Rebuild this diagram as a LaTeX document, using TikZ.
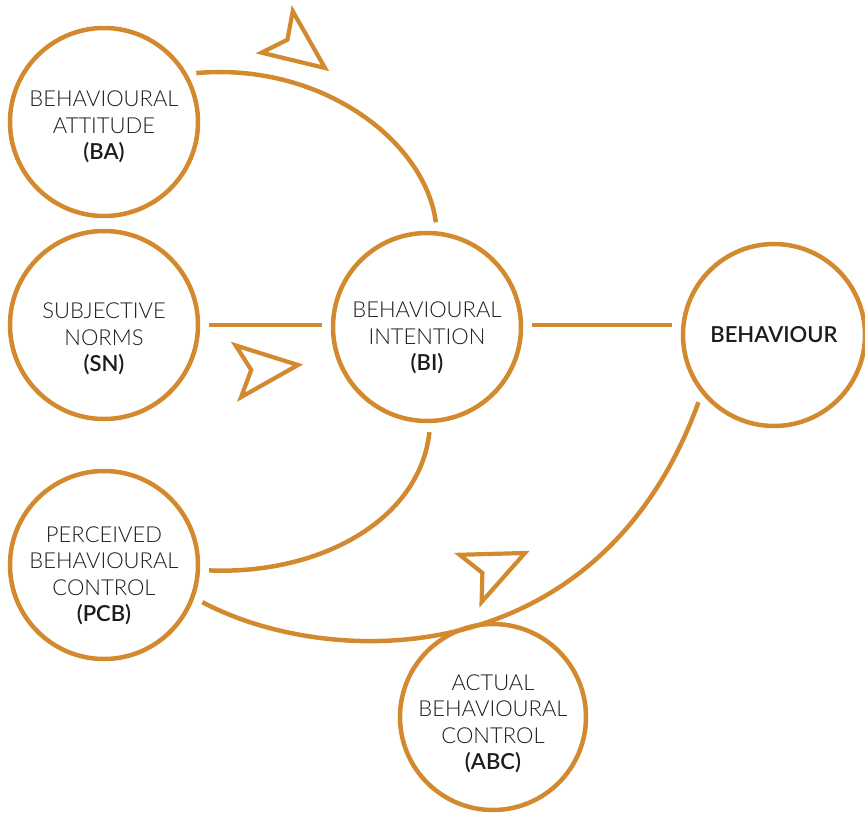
\documentclass[tikz,border=0pt]{standalone}
\usepackage{fontspec}
\setmainfont{Lato Light}[BoldFont={Lato Semibold}]
\definecolor{ochre}{HTML}{D38A2F}
\definecolor{ink}{HTML}{1C1C1C}
\begin{document}
\begin{tikzpicture}[x=1pt,y=-1pt,
  stage/.style={circle, draw=ochre, line width=4.5pt, minimum size=188pt, inner sep=0pt},
  caption/.style={align=center, text=ink, inner sep=0pt, font=\fontsize{22}{26.5}\selectfont},
  link/.style={draw=ochre, line width=4.5pt, shorten <=9pt, shorten >=9pt},
  dart/.pic={\draw[ochre, line width=4.2pt, line join=miter] (0,0) -- (-60,26) -- (-47,0) -- (-60,-26) -- cycle;}
]
\useasboundingbox (0,0) rectangle (865,812);

% the six stages
\node[stage] (ba)  at (104,122) {};
\node[stage] (sn)  at (104,325) {};
\node[stage] (bi)  at (427,327) {};
\node[stage, minimum size=182pt] (beh) at (774,335) {};
\node[stage] (pcb) at (104,565) {};
\node[stage, minimum size=186pt] (abc) at (493,717) {};

% their captions
\node[caption] (ba-t)  at ([yshift=-5pt]ba.center)   {BEHAVIOURAL\\ATTITUDE\\\textbf{(BA)}};
\node[caption] (sn-t)  at ([yshift=-14pt]sn.center)  {SUBJECTIVE\\NORMS\\\textbf{(SN)}};
\node[caption] (bi-t)  at ([yshift=-11pt]bi.center)  {BEHAVIOURAL\\INTENTION\\\textbf{(BI)}};
\node[caption] (beh-t) at (beh.center) {\textbf{BEHAVIOUR}};
\node[caption] (pcb-t) at ([yshift=-11pt]pcb.center) {PERCEIVED\\BEHAVIOURAL\\CONTROL\\\textbf{(PCB)}};
\node[caption] (abc-t) at ([yshift=-7pt]abc.center)  {ACTUAL\\BEHAVIOURAL\\CONTROL\\\textbf{(ABC)}};

% connectors
\draw[link] (ba.30) .. controls (320,62) and (425,140) .. (bi.84);
\draw[link] (sn.east) -- (sn.east -| bi.west);
\draw[link] ([yshift=2pt]bi.east) -- ([yshift=2pt]bi.east -| beh.west);
\draw[link] (bi.-88) .. controls (420,520) and (320,575) .. (pcb.-3);
\draw[link] (pcb.-20) .. controls (330,670) and (600,675) .. (beh.-141);

% direction marks
\pic[rotate=-37] at (325,68) {dart};
\pic[rotate=6] at (298,365) {dart};
\pic[rotate=25] at (525,553) {dart};
\end{tikzpicture}
\end{document}
